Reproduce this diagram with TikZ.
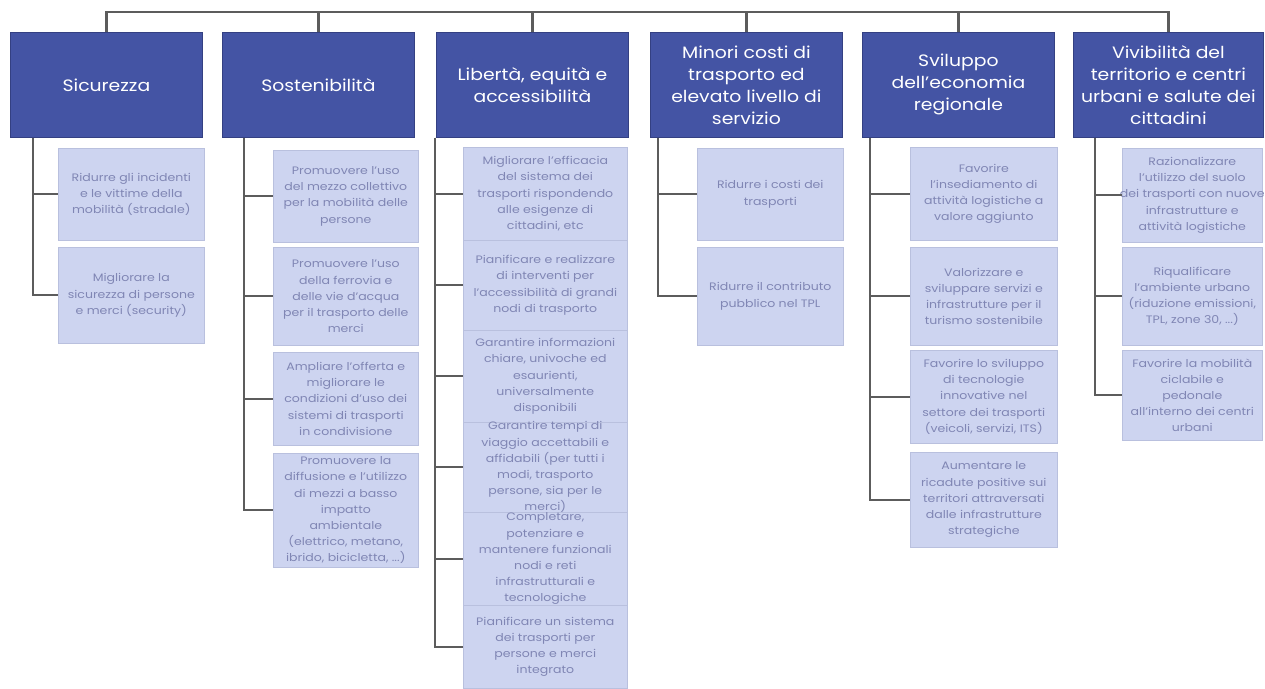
\documentclass[tikz,border=0pt]{standalone}
\usepackage{fontspec}
\setmainfont{Poppins}
\newfontfamily\topfont{Poppins}[FakeStretch=1.14,Ligatures=TeX]
\newfontfamily\childfont{Poppins}[FakeStretch=1.16,Ligatures=TeX]
\usetikzlibrary{calc}
\definecolor{topfill}{RGB}{68,84,164}
\definecolor{topborder}{RGB}{52,64,130}
\definecolor{childfill}{RGB}{205,212,240}
\definecolor{childborder}{RGB}{185,192,222}
\definecolor{childtext}{RGB}{128,134,180}
\definecolor{connline}{RGB}{92,92,92}
\tikzset{
  topbox/.style={rectangle, fill=topfill, draw=topborder, line width=0.8pt,
    anchor=north west, inner sep=0pt},
  toptxt/.style={align=center, text=white, inner sep=0pt,
    font=\topfont\fontsize{16.5}{22}\selectfont},
  childbox/.style={rectangle, fill=childfill, draw=childborder, line width=0.6pt,
    anchor=north west, inner sep=0pt},
  childtxt/.style={align=center, text=childtext, inner sep=0pt,
    font=\childfont\fontsize{10.8}{16.2}\selectfont},
  conn/.style={draw=connline, line width=2.2pt},
}
\newcommand{\tbox}[6]{% name, x, y, w, h, text
  \node[topbox, minimum width=#4pt, minimum height=#5pt] (#1) at (#2,#3) {};
  \node[toptxt] (#1t) at (#1.center) {#6};}
\newcommand{\cbox}[6]{% name, x, y, w, h, text
  \node[childbox, minimum width=#4pt, minimum height=#5pt] (#1) at (#2,#3) {};
  \node[childtxt] (#1t) at (#1.center) {#6};}
\begin{document}
\begin{tikzpicture}[x=1pt,y=-1pt]
\path[use as bounding box, fill=white] (0,0) rectangle (1265,688);

% top boxes
\tbox{t1}{10}{32}{192}{105}{Sicurezza}
\tbox{t2}{222}{32}{192}{105}{Sostenibilità}
\tbox{t3}{436}{32}{192}{105}{Libertà, equità e\\accessibilità}
\tbox{t4}{650}{32}{192}{105}{Minori costi di\\trasporto ed\\elevato livello di\\servizio}
\tbox{t5}{862}{32}{192}{105}{Sviluppo\\dell'economia\\regionale}
\tbox{t6}{1073}{32}{190}{105}{Vivibilità del\\territorio e centri\\urbani e salute dei\\cittadini}

% top bar
\coordinate (bar) at (0,12);
\draw[conn] (t1.north) -- (t1.north |- bar) -- (t6.north |- bar) -- (t6.north);
\foreach \k in {2,3,4,5}{\draw[conn] (t\k.north) -- (t\k.north |- bar);}

% column 1
\cbox{c11}{58}{148}{146}{92}{Ridurre gli incidenti\\e le vittime della\\mobilità (stradale)}
\cbox{c12}{58}{247}{146}{96}{Migliorare la\\sicurezza di persone\\e merci (security)}

% column 2
\cbox{c21}{273}{150}{145}{92}{Promuovere l'uso\\del mezzo collettivo\\per la mobilità delle\\persone}
\cbox{c22}{273}{247}{145}{98}{Promuovere l'uso\\della ferrovia e\\delle vie d'acqua\\per il trasporto delle\\merci}
\cbox{c23}{273}{352}{145}{93}{Ampliare l'offerta e\\migliorare le\\condizioni d'uso dei\\sistemi di trasporti\\in condivisione}
\cbox{c24}{273}{453}{145}{114}{Promuovere la\\diffusione e l'utilizzo\\di mezzi a basso\\impatto\\ambientale\\(elettrico, metano,\\ibrido, bicicletta, ...)}

% column 3
\cbox{c31}{463}{147}{164}{93}{Migliorare l'efficacia\\del sistema dei\\trasporti rispondendo\\alle esigenze di\\cittadini, etc}
\cbox{c32}{463}{240}{164}{90}{Pianificare e realizzare\\di interventi per\\l'accessibilità di grandi\\nodi di trasporto}
\cbox{c33}{463}{330}{164}{92}{Garantire informazioni\\chiare, univoche ed\\esaurienti,\\universalmente\\disponibili}
\cbox{c34}{463}{422}{164}{90}{Garantire tempi di\\viaggio accettabili e\\affidabili (per tutti i\\modi, trasporto\\persone, sia per le\\merci)}
\cbox{c35}{463}{512}{164}{93}{Completare,\\potenziare e\\mantenere funzionali\\nodi e reti\\infrastrutturali e\\tecnologiche}
\cbox{c36}{463}{605}{164}{83}{Pianificare un sistema\\dei trasporti per\\persone e merci\\integrato}

% column 4
\cbox{c41}{697}{148}{146}{92}{Ridurre i costi dei\\trasporti}
\cbox{c42}{697}{247}{146}{98}{Ridurre il contributo\\pubblico nel TPL}

% column 5
\cbox{c51}{910}{147}{147}{93}{Favorire\\l'insediamento di\\attività logistiche a\\valore aggiunto}
\cbox{c52}{910}{247}{147}{98}{Valorizzare e\\sviluppare servizi e\\infrastrutture per il\\turismo sostenibile}
\cbox{c53}{910}{350}{147}{93}{Favorire lo sviluppo\\di tecnologie\\innovative nel\\settore dei trasporti\\(veicoli, servizi, ITS)}
\cbox{c54}{910}{452}{147}{95}{Aumentare le\\ricadute positive sui\\territori attraversati\\dalle infrastrutture\\strategiche}

% column 6
\cbox{c61}{1122}{148}{140}{94}{Razionalizzare\\l'utilizzo del suolo\\dei trasporti con nuove\\infrastrutture e\\attività logistiche}
\cbox{c62}{1122}{247}{140}{98}{Riqualificare\\l'ambiente urbano\\(riduzione emissioni,\\TPL, zone 30, ...)}
\cbox{c63}{1122}{350}{140}{90}{Favorire la mobilità\\ciclabile e\\pedonale\\all'interno dei centri\\urbani}

% vertical spines
\coordinate (v1) at ($(t1.south west)+(23,0)$);
\coordinate (v2) at ($(t2.south west)+(22,0)$);
\coordinate (v3) at ($(t3.south west)+(-1,0)$);
\coordinate (v4) at ($(t4.south west)+(8,0)$);
\coordinate (v5) at ($(t5.south west)+(8,0)$);
\coordinate (v6) at ($(t6.south west)+(22,0)$);

\foreach \c in {c11,c12}{\draw[conn] (v1) |- (\c.west);}
\foreach \c in {c21,c22,c23,c24}{\draw[conn] (v2) |- (\c.west);}
\foreach \c in {c31,c32,c33,c34,c35,c36}{\draw[conn] (v3) |- (\c.west);}
\foreach \c in {c41,c42}{\draw[conn] (v4) |- (\c.west);}
\foreach \c in {c51,c52,c53,c54}{\draw[conn] (v5) |- (\c.west);}
\foreach \c in {c61,c62,c63}{\draw[conn] (v6) |- (\c.west);}
\end{tikzpicture}
\end{document}
